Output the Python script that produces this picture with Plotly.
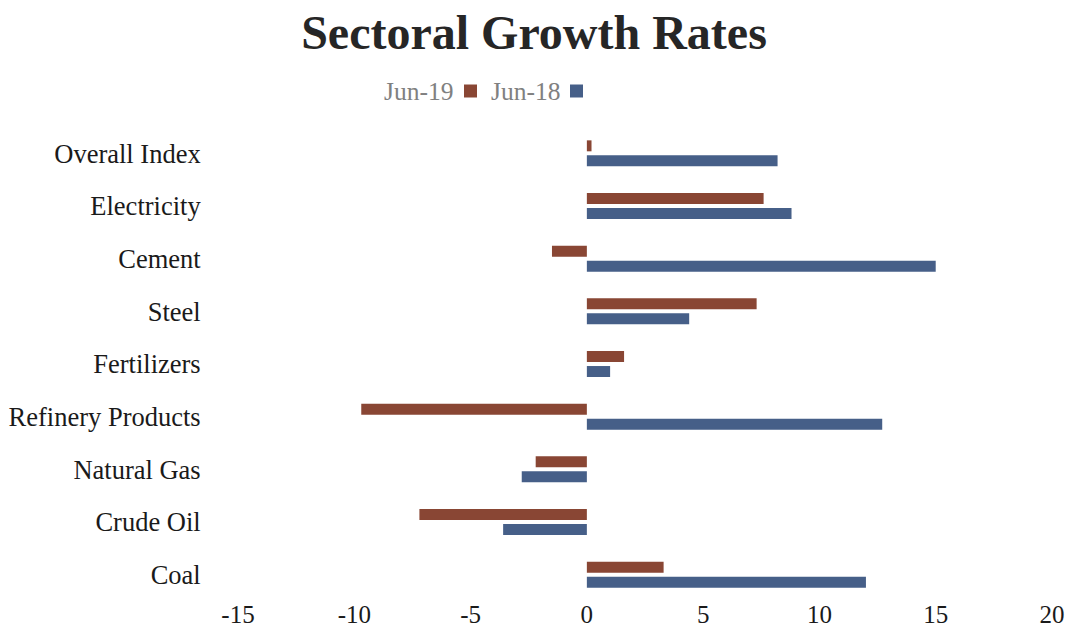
import plotly.graph_objects as go

categories = ["Coal", "Crude Oil", "Natural Gas", "Refinery Products", "Fertilizers",
              "Steel", "Cement", "Electricity", "Overall Index"]
jun19 = [3.3, -7.2, -2.2, -9.7, 1.6, 7.3, -1.5, 7.6, 0.2]
jun18 = [12.0, -3.6, -2.8, 12.7, 1.0, 4.4, 15.0, 8.8, 8.2]
series_names = ["Jun-19", "Jun-18"]
tick_vals = [-15, -10, -5, 0, 5, 10, 15, 20]

brown = "#894634"
blue = "#465F88"
serif = "Liberation Serif, Times New Roman, serif"

fig = go.Figure()
fig.add_trace(go.Bar(y=categories, x=jun18, name=series_names[1], orientation="h",
                     marker=dict(color=blue, line=dict(width=0)), showlegend=False))
fig.add_trace(go.Bar(y=categories, x=jun19, name=series_names[0], orientation="h",
                     marker=dict(color=brown, line=dict(width=0)), showlegend=False))

L, R, T, B = 238, 16, 127, 30
W, H = 1068, 631
pw = W - L - R
ph = H - T - B

def px_x(px):
    return (px - L) / pw

def px_y(py):
    return (H - B - py) / ph

fig.update_layout(
    width=W, height=H,
    margin=dict(l=L, r=R, t=T, b=B, autoexpand=False),
    paper_bgcolor="white", plot_bgcolor="white",
    barmode="group", bargap=0.43, bargroupgap=0.27,
    title=dict(text="<b>Sectoral Growth Rates</b>", x=0.5, xanchor="center",
               yref="container", y=1 - 32 / H, yanchor="middle",
               font=dict(family=serif, size=48, color="#262626")),
    xaxis=dict(range=[-15, 20], tickvals=tick_vals, ticktext=[str(v) for v in tick_vals],
               showgrid=False, zeroline=False, showline=False, automargin=False,
               ticks="", ticklabelstandoff=-4,
               tickfont=dict(family=serif, size=25, color="#1a1a1a")),
    yaxis=dict(showgrid=False, zeroline=False, showline=False, automargin=False,
               ticks="outside", ticklen=31, tickcolor="rgba(0,0,0,0)",
               tickfont=dict(family=serif, size=26.5, color="#1a1a1a")),
)

# Legend (Excel style: text followed by colour key)
legend_items = [(series_names[0], brown, 455, 464), (series_names[1], blue, 562, 570)]
for name, color, text_right, key_left in legend_items:
    fig.add_annotation(x=px_x(text_right), y=px_y(91), xref="paper", yref="paper",
                       text=name, showarrow=False, xanchor="right", yanchor="middle",
                       font=dict(family=serif, size=25.5, color="#808080"))
    fig.add_shape(type="rect", xref="paper", yref="paper",
                  x0=px_x(key_left), x1=px_x(key_left + 13),
                  y0=px_y(97.5), y1=px_y(84.5),
                  fillcolor=color, line=dict(width=0))

fig.write_html("out.html", config={"displayModeBar": False})

# remove default page margin so the figure sits at the window origin
with open("out.html", "r", encoding="utf-8") as f:
    html = f.read()
html = html.replace("<head>", "<head><style>html,body{margin:0;padding:0;overflow:hidden;}</style>", 1)
with open("out.html", "w", encoding="utf-8") as f:
    f.write(html)
